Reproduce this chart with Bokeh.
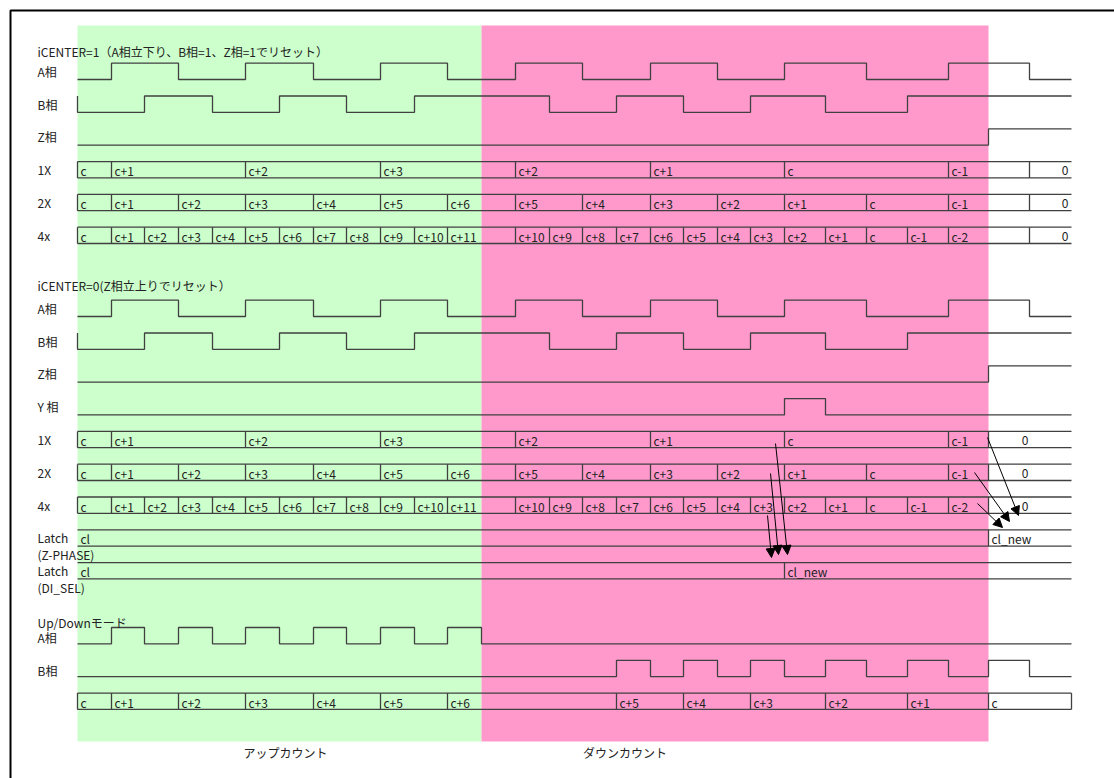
from bokeh.plotting import figure
from bokeh.models import Range1d, Arrow, NormalHead
from bokeh.embed import file_html
from bokeh.resources import INLINE
from bokeh.core.properties import value

# ---------------- data ----------------
# time grid: boundaries of the time slots (Excel-like cells)
slot_edges = [77, 111, 144, 178, 212, 245, 279, 313, 346, 380, 414, 447, 481,
              515, 549, 582, 616, 650, 683, 717, 750, 784, 825, 866, 907, 948,
              988, 1029, 1071]
up_count_slots = [0, 12]      # green: up count
down_count_slots = [12, 26]   # pink: down count

# quadrature phases: initial level and the slots where the level toggles
a_init = 0
a_toggles = [1, 3, 5, 7, 9, 11, 13, 15, 17, 19, 21, 23, 25, 27]
b_init = 1
b_toggles = [0, 2, 4, 6, 8, 10, 14, 16, 18, 20, 22, 24]
z_init = 0
z_toggles = [26]
y_init = 0
y_toggles = [21, 22]

# up/down mode phases
ud_a_init = 0
ud_a_toggles = [1, 2, 3, 4, 5, 6, 7, 8, 9, 10, 11, 12]
ud_b_init = 0
ud_b_toggles = [16, 17, 18, 19, 20, 21, 22, 23, 24, 25, 26, 27]

# counter values: slot where each value starts, and the value
x1_starts = [0, 1, 5, 9, 13, 17, 21, 25]
x1_values = ["c", "c+1", "c+2", "c+3", "c+2", "c+1", "c", "c-1"]
x2_starts = [0, 1, 3, 5, 7, 9, 11, 13, 15, 17, 19, 21, 23, 25]
x2_values = ["c", "c+1", "c+2", "c+3", "c+4", "c+5", "c+6",
             "c+5", "c+4", "c+3", "c+2", "c+1", "c", "c-1"]
x4_starts = [0, 1, 2, 3, 4, 5, 6, 7, 8, 9, 10, 11,
             13, 14, 15, 16, 17, 18, 19, 20, 21, 22, 23, 24, 25]
x4_values = ["c", "c+1", "c+2", "c+3", "c+4", "c+5", "c+6", "c+7", "c+8",
             "c+9", "c+10", "c+11",
             "c+10", "c+9", "c+8", "c+7", "c+6", "c+5", "c+4", "c+3",
             "c+2", "c+1", "c", "c-1", "c-2"]
reset_value = "0"
reset_slot_center1 = 27   # iCENTER=1: reset one slot later
reset_slot_center0 = 26   # iCENTER=0: reset at Z rising edge

latch_z_starts = [0, 26]
latch_z_values = ["cl", "cl_new"]
latch_di_starts = [0, 21]
latch_di_values = ["cl", "cl_new"]

ud_starts = [0, 1, 3, 5, 7, 9, 11, 16, 18, 20, 22, 24, 26]
ud_values = ["c", "c+1", "c+2", "c+3", "c+4", "c+5", "c+6",
             "c+5", "c+4", "c+3", "c+2", "c+1", "c"]

# ---------------- style / layout ----------------
LINE = "#404040"
TEXT = "#222222"
FONT = "Noto Sans CJK JP"
FS = "12px"
PITCH = 32.8
HIGH = 16.3
SEC1, SEC2, SEC3 = 79.0, 316.0, 643.3
LABEL_X = 37

W, H = 1114, 778
p = figure(width=W, height=H, x_range=Range1d(0, W), y_range=Range1d(H, 0),
           output_backend="svg", toolbar_location=None, min_border=0)
p.axis.visible = False
p.grid.visible = False
p.outline_line_color = None
p.background_fill_color = "white"
p.border_fill_color = "white"

# background regions
p.quad(left=[slot_edges[up_count_slots[0]]], right=[slot_edges[up_count_slots[1]]],
       top=[25], bottom=[741], fill_color="#CCFFCC", line_color=None)
p.quad(left=[slot_edges[down_count_slots[0]]], right=[slot_edges[down_count_slots[1]]],
       top=[25], bottom=[741], fill_color="#FF99CC", line_color=None)

# frame
p.line([10, 10, W], [H, 10, 10], line_color="black", line_width=2)

texts = {"x": [], "y": [], "t": [], "align": []}


def add_text(x, y, t, align="left"):
    texts["x"].append(x)
    texts["y"].append(y)
    texts["t"].append(t)
    texts["align"].append(align)


def low_y(base, k):
    return base + PITCH * k


def step(init, toggles, yl):
    lvl = init
    xs = [slot_edges[0]]
    ys = [yl - HIGH * lvl]
    for t in toggles:
        x = slot_edges[t]
        xs += [x, x]
        ys += [yl - HIGH * lvl, yl - HIGH * (1 - lvl)]
        lvl = 1 - lvl
    xs.append(slot_edges[-1])
    ys.append(yl - HIGH * lvl)
    p.line(xs, ys, line_color=LINE, line_width=1.3)


def bus(starts, values, yl, tail=None, start_tick=True, close=False):
    top = yl - HIGH
    x0, x1 = slot_edges[0], slot_edges[-1]
    xs = [[x0, x1], [x0, x1]]
    ys = [[top, top], [yl, yl]]
    allstarts = list(starts) + ([tail[0]] if tail else [])
    for i, s in enumerate(allstarts):
        if i == 0 and not start_tick:
            continue
        xs.append([slot_edges[s], slot_edges[s]])
        ys.append([top, yl])
    if close:
        xs.append([x1, x1])
        ys.append([top, yl])
    p.multi_line(xs, ys, line_color=LINE, line_width=1.3)
    cy = top + HIGH / 2 + 1
    for s, v in zip(starts, values):
        add_text(slot_edges[s] + 3, cy, v)
    if tail:
        s, v, how = tail
        if how == "right":
            add_text(slot_edges[-1] - 3, cy, v, "right")
        else:
            add_text((slot_edges[s] + slot_edges[-1]) / 2 - 5, cy, v, "center")


def label(base, k, t, dy=0):
    add_text(LABEL_X, low_y(base, k) - HIGH / 2 + dy, t)


# ---- section 1: iCENTER=1
add_text(LABEL_X, 51, "iCENTER=1（A相立下り、B相=1、Z相=1でリセット）")
label(SEC1, 0, "A相"); step(a_init, a_toggles, low_y(SEC1, 0))
label(SEC1, 1, "B相"); step(b_init, b_toggles, low_y(SEC1, 1))
label(SEC1, 2, "Z相"); step(z_init, z_toggles, low_y(SEC1, 2))
label(SEC1, 3, "1X"); bus(x1_starts, x1_values, low_y(SEC1, 3), (reset_slot_center1, reset_value, "right"))
label(SEC1, 4, "2X"); bus(x2_starts, x2_values, low_y(SEC1, 4), (reset_slot_center1, reset_value, "right"))
label(SEC1, 5, "4x"); bus(x4_starts, x4_values, low_y(SEC1, 5), (reset_slot_center1, reset_value, "right"))

# ---- section 2: iCENTER=0
add_text(LABEL_X, 285, "iCENTER=0(Z相立上りでリセット）")
label(SEC2, 0, "A相"); step(a_init, a_toggles, low_y(SEC2, 0))
label(SEC2, 1, "B相"); step(b_init, b_toggles, low_y(SEC2, 1))
label(SEC2, 2, "Z相"); step(z_init, z_toggles, low_y(SEC2, 2))
label(SEC2, 3, "Y 相"); step(y_init, y_toggles, low_y(SEC2, 3))
label(SEC2, 4, "1X"); bus(x1_starts, x1_values, low_y(SEC2, 4), (reset_slot_center0, reset_value, "center"))
label(SEC2, 5, "2X"); bus(x2_starts, x2_values, low_y(SEC2, 5), (reset_slot_center0, reset_value, "center"))
label(SEC2, 6, "4x"); bus(x4_starts, x4_values, low_y(SEC2, 6), (reset_slot_center0, reset_value, "center"))
label(SEC2, 7, "Latch"); label(SEC2, 7, "(Z-PHASE)", dy=16.4)
bus(latch_z_starts, latch_z_values, low_y(SEC2, 7), start_tick=False)
label(SEC2, 8, "Latch"); label(SEC2, 8, "(DI_SEL)", dy=16.4)
bus(latch_di_starts, latch_di_values, low_y(SEC2, 8), start_tick=False)

# ---- section 3: up/down mode
add_text(LABEL_X, 621.5, "Up/Downモード")
label(SEC3, 0, "A相", dy=1.5); step(ud_a_init, ud_a_toggles, low_y(SEC3, 0))
label(SEC3, 1, "B相", dy=2); step(ud_b_init, ud_b_toggles, low_y(SEC3, 1))
bus(ud_starts, ud_values, low_y(SEC3, 2), close=True)

add_text(285, 751.5, "アップカウント", "center")
add_text(624.5, 751.5, "ダウンカウント", "center")

for al in ("left", "center", "right"):
    idx = [i for i, a in enumerate(texts["align"]) if a == al]
    if not idx:
        continue
    p.text(x=[texts["x"][i] for i in idx], y=[texts["y"][i] for i in idx],
           text=[texts["t"][i] for i in idx], text_align=al, text_baseline="middle",
           text_font=value(FONT), text_font_size=value(FS), text_color=TEXT)

# latch arrows (annotation)
arrow_x0 = [775, 770, 767, 987, 974, 977]
arrow_y0 = [443, 473, 515, 437, 472, 503]
arrow_x1 = [787, 778, 771, 1018, 1009, 1002]
arrow_y1 = [554, 554, 557, 515, 521, 527]
for xa, ya, xb, yb in zip(arrow_x0, arrow_y0, arrow_x1, arrow_y1):
    p.add_layout(Arrow(end=NormalHead(size=9, fill_color="black", line_color="black", line_width=1),
                       x_start=xa, y_start=ya, x_end=xb, y_end=yb,
                       line_color="black", line_width=1))

open("out.html", "w").write(file_html(p, INLINE))
